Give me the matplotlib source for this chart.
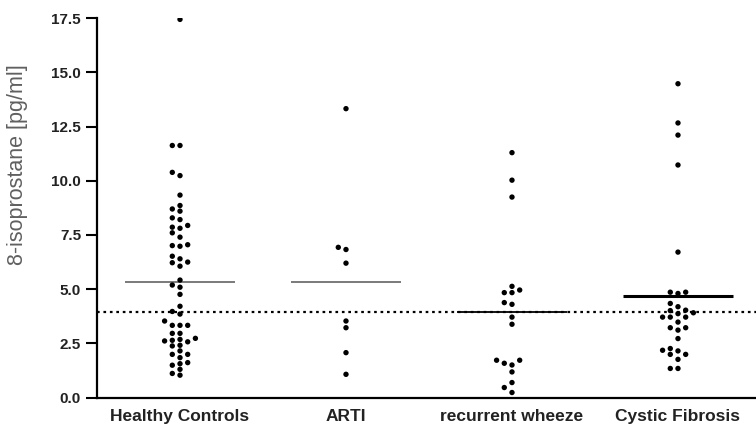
import numpy as np
import matplotlib
matplotlib.use("Agg")
import matplotlib.pyplot as plt

categories = ["Healthy Controls", "ARTI", "recurrent wheeze", "Cystic Fibrosis"]

healthy = [17.45, 11.63, 11.63, 10.39, 10.24, 9.34, 8.86, 8.70, 8.60, 8.29, 8.21,
           7.94, 7.86, 7.81, 7.60, 7.40, 7.05, 7.01, 6.98, 6.52, 6.40, 6.25, 6.22,
           6.06, 5.42, 5.19, 5.09, 4.76, 4.21, 3.97, 3.85, 3.53, 3.33, 3.33, 3.33,
           2.96, 2.96, 2.73, 2.68, 2.64, 2.61, 2.57, 2.41, 2.38, 2.15, 1.99, 1.99,
           1.84, 1.61, 1.56, 1.49, 1.30, 1.11, 1.03]
arti = [13.33, 6.93, 6.83, 6.20, 3.53, 3.22, 2.07, 1.07]
wheeze = [11.30, 10.03, 9.25, 5.13, 4.96, 4.84, 4.84, 4.38, 4.30, 3.71, 3.38,
          1.72, 1.72, 1.58, 1.50, 1.18, 0.69, 0.46, 0.23]
cystic = [14.48, 12.67, 12.11, 10.73, 6.71, 4.86, 4.80, 4.86, 4.34, 4.19, 4.03,
          4.01, 3.91, 3.87, 3.71, 3.71, 3.71, 3.48, 3.22, 3.22, 3.11, 2.72, 2.26,
          2.18, 2.15, 1.99, 1.99, 1.76, 1.34, 1.34]
groups = [healthy, arti, wheeze, cystic]

center_lines = [5.32, 5.34, 3.96, 4.68]
reference_level = 3.96

yticks = [0.0, 2.5, 5.0, 7.5, 10.0, 12.5, 15.0, 17.5]
ytick_labels = ["0.0", "2.5", "5.0", "7.5", "10.0", "12.5", "15.0", "17.5"]


def swarm_offsets(values, step, thr):
    order = np.argsort(values)
    placed = {}
    offs = np.zeros(len(values))
    cand = [0]
    for j in range(1, 20):
        cand += [-j, j]
    for i in order:
        v = values[i]
        for k in cand:
            col = placed.setdefault(k, [])
            if all(abs(v - u) >= thr for u in col):
                col.append(v)
                offs[i] = k * step
                break
    return offs


plt.rcParams["font.family"] = ["Liberation Sans", "DejaVu Sans"]
fig = plt.figure(figsize=(7.56, 4.30), dpi=100)
ax = fig.add_axes([97 / 756, 32.5 / 430, 659 / 756, 379.2 / 430])

for i, vals in enumerate(groups):
    vals = np.array(vals)
    offs = swarm_offsets(vals, 0.0464, 0.25)
    ax.scatter(i + offs, vals, s=15, color="black", edgecolors="none", zorder=3)

line_colors = ["#707070", "#707070", "#000000", "#000000"]
line_widths = [1.3, 1.3, 1.3, 2.2]
for i, (m, c, lw) in enumerate(zip(center_lines, line_colors, line_widths)):
    ax.plot([i - 0.33, i + 0.33], [m, m], color=c, lw=lw, zorder=2,
            solid_capstyle="butt")

ax.axhline(reference_level, color="black", lw=1.6, ls=(0, (1.2, 1.7)), zorder=2)

ax.set_xlim(-0.5, 3.47)
ax.set_ylim(0, 17.5)
ax.set_yticks(yticks)
ax.set_yticklabels(ytick_labels)
ax.set_xticks(range(len(categories)))
ax.set_xticklabels(categories)

for side in ["top", "right"]:
    ax.spines[side].set_visible(False)
for side in ["left", "bottom"]:
    ax.spines[side].set_linewidth(1.6)
    ax.spines[side].set_color("black")

ax.tick_params(axis="y", length=8, width=1.5, pad=3.5, labelsize=11,
               colors="black", labelcolor="#222222")
ax.tick_params(axis="x", length=0, pad=8.5, labelsize=12.5, labelcolor="#222222")
for lab in ax.get_yticklabels() + ax.get_xticklabels():
    lab.set_fontweight("bold")

fig.text(18 / 756, 1 - 165 / 430, "8-isoprostane [pg/ml]", rotation=90,
         ha="center", va="center", fontsize=15.5, color="#606060")

fig.savefig("out.png", dpi=100)
